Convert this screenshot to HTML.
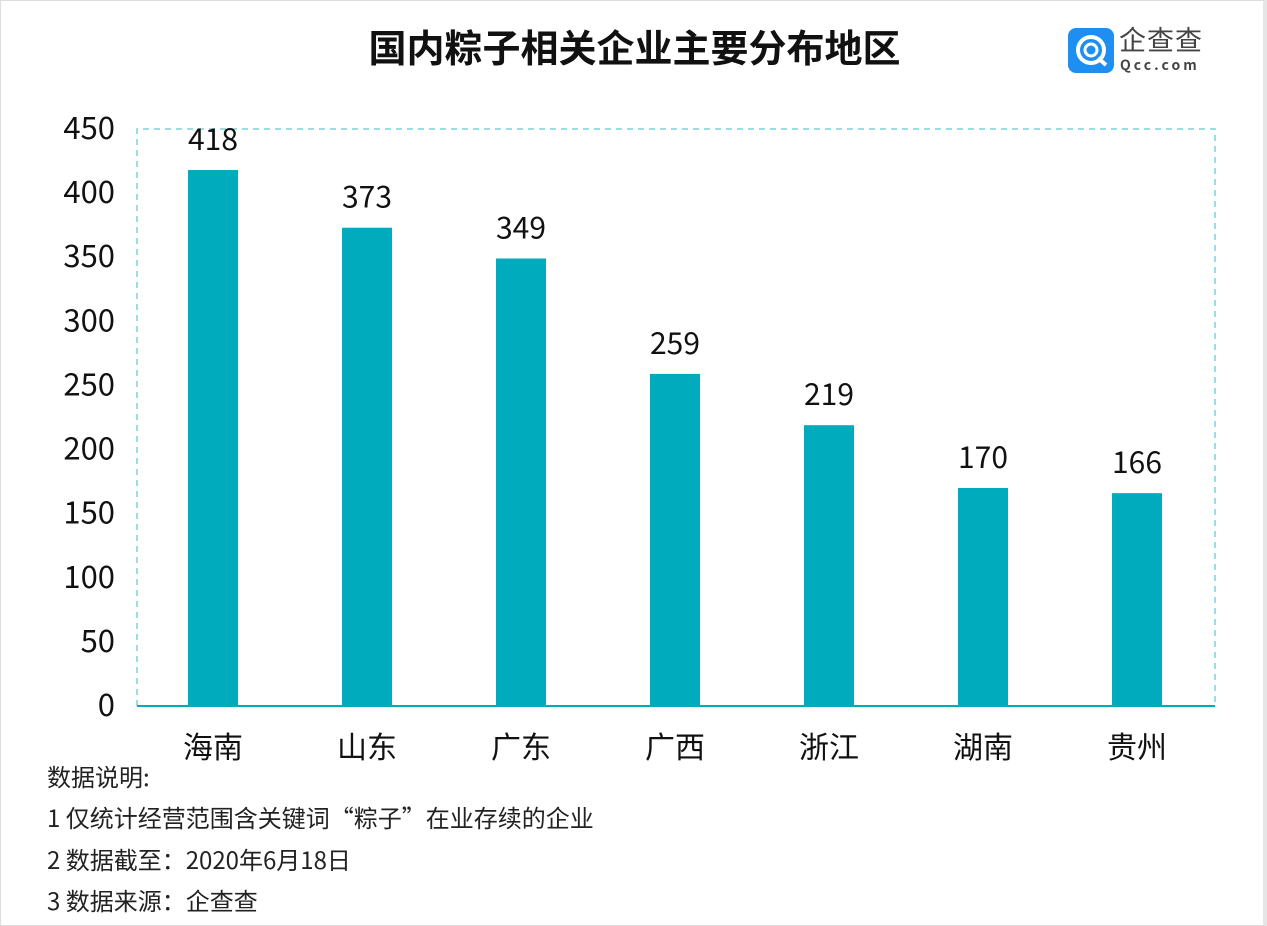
<!DOCTYPE html>
<html><head><meta charset="utf-8"><style>
body{margin:0;background:#fff;}
#wrap{position:relative;width:1267px;height:926px;overflow:hidden;font-family:"Noto Sans CJK SC","Liberation Sans",sans-serif;box-sizing:border-box;border:1px solid #ddd;border-right:4px solid #e6e6e6;}
.note{position:absolute;left:46px;font-size:24px;color:#222;line-height:1;}
</style></head><body>
<div id="wrap">
<div style="position:absolute;left:0;width:1267px;top:22px;text-align:center;font-size:38px;font-weight:bold;color:#111;line-height:1.2;">国内粽子相关企业主要分布地区</div>
<div style="position:absolute;left:1067px;top:27px;width:46px;height:45px;background:#1e8ff0;border-radius:8px;">
<svg width="46" height="45"><circle cx="23" cy="22" r="13" fill="none" stroke="#fff" stroke-width="4"/><circle cx="23" cy="22" r="6" fill="none" stroke="#fff" stroke-width="3"/><path d="M30 30 L38 37" stroke="#fff" stroke-width="4"/></svg></div>
<div style="position:absolute;left:1118px;top:22px;font-size:27px;color:#444;letter-spacing:1px;line-height:1.2;">企查查</div>
<div style="position:absolute;left:1119px;top:56px;font-size:14px;color:#444;letter-spacing:3px;font-weight:bold;line-height:1.2;">Qcc.com</div>
<svg id="chart" width="1267" height="780" style="position:absolute;left:0;top:0"></svg>
<div class="note" style="top:763px;">数据说明:</div>
<div class="note" style="top:804px;">1 仅统计经营范围含关键词“粽子”在业存续的企业</div>
<div class="note" style="top:846px;">2 数据截至：2020年6月18日</div>
<div class="note" style="top:887px;">3 数据来源：企查查</div>
</div>
<script>
const categories=["海南","山东","广东","广西","浙江","湖南","贵州"];
const values=[418,373,349,259,219,170,166];
const yTicks=[0,50,100,150,200,250,300,350,400,450];
const L=136,R=1214,T=128,B=705,MAX=450;
const y=v=>B-(v/MAX)*(B-T);
const band=(R-L)/categories.length;
const xc=i=>L+band*(i+0.5)-1;
const svg=document.getElementById('chart');
const NS="http://www.w3.org/2000/svg";
const F='Noto Sans CJK SC, Liberation Sans, sans-serif';
function mk(t,a){const e=document.createElementNS(NS,t);for(const k in a)e.setAttribute(k,a[k]);svg.appendChild(e);return e;}
const fr=mk('path',{d:`M${L} ${B} V${T} H${R} V${B}`,fill:'none',stroke:'#7fd0dc','stroke-width':1.5,'stroke-dasharray':'6,5'});


yTicks.forEach(v=>{const t=mk('text',{x:114,y:y(v)+10,'text-anchor':'end','font-size':31,fill:'#111','font-family':F});t.textContent=v;

});
values.forEach((v,i)=>{const r=mk('rect',{x:xc(i)-25,y:y(v),width:50,height:B-y(v),fill:'#00abbd'});


const t=mk('text',{x:xc(i),y:y(v)-20,'text-anchor':'middle','font-size':30,fill:'#111','font-family':F});t.textContent=v;


const c=mk('text',{x:xc(i),y:757,'text-anchor':'middle','font-size':30,fill:'#111','font-family':F});c.textContent=categories[i];

});
const ax=mk('line',{x1:L,x2:R,y1:B,y2:B,stroke:'#00abbd','stroke-width':2});


</script>
</body></html>
